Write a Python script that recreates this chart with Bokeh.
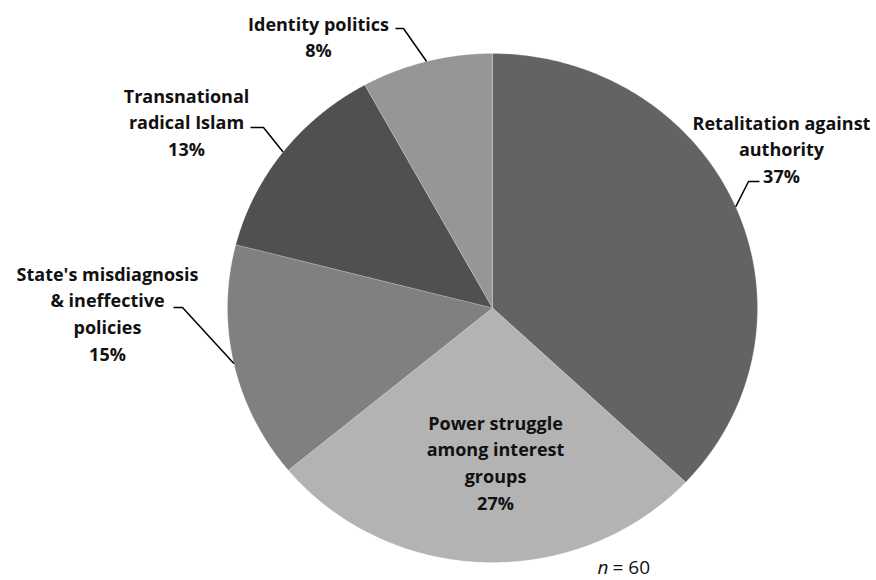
import numpy as np
from bokeh.plotting import figure
from bokeh.models import Range1d, ColumnDataSource
from bokeh.core.properties import value
from bokeh.embed import file_html
from bokeh.resources import INLINE

# ---- data ----
categories = ["Retalitation against authority",
              "Power struggle among interest groups",
              "State's misdiagnosis & ineffective policies",
              "Transnational radical Islam",
              "Identity politics"]
percentages = [37, 27, 15, 13, 8]
label_lines = [["Retalitation against", "authority"],
               ["Power struggle", "among interest", "groups"],
               ["State's misdiagnosis", "& ineffective", "policies"],
               ["Transnational", "radical Islam"],
               ["Identity politics"]]
colors = ["#636363", "#b3b3b3", "#808080", "#505050", "#969696"]
sample_note = "= 60"

# ---- layout (pixel-like coordinates, y downward) ----
W, H = 876, 580
CX, CY, RX, RY = 492, 307.5, 265, 254.5
label_pos = [(781, 122), (495, 422), (107, 273), (186, 95), (318, 23)]
line_gap = 26.7
leader_pts = [[(759, 181), (748, 181)],
              None,
              [(173, 307), (182, 307)],
              [(250, 127), (263, 127)],
              [(395, 28), (403, 28)]]

p = figure(width=W, height=H, output_backend="svg", toolbar_location=None,
           x_range=Range1d(0, W), y_range=Range1d(H, 0), min_border=0,
           background_fill_color="white", border_fill_color="white")
p.axis.visible = False
p.grid.visible = False
p.outline_line_color = None

vals = np.array(percentages, dtype=float)
fr = vals / vals.sum()
ends = 90 - 360 * np.cumsum(fr)
starts = np.concatenate([[90], ends[:-1]])

xs, ys = [], []
mids = []
for s, e in zip(starts, ends):
    th = np.radians(np.linspace(s, e, 200))
    xs.append(np.concatenate([[CX], CX + RX * np.cos(th)]).tolist())
    ys.append(np.concatenate([[CY], CY - RY * np.sin(th)]).tolist())
    m = np.radians((s + e) / 2)
    mids.append((CX + RX * np.cos(m), CY - RY * np.sin(m)))

p.patches(xs, ys, fill_color=colors, line_color="white", line_width=0.5, line_alpha=0.4)

# leader lines
lx, ly = [], []
for pts, mid in zip(leader_pts, mids):
    if pts is None:
        continue
    lx.append([pts[0][0], pts[1][0], mid[0]])
    ly.append([pts[0][1], pts[1][1], mid[1]])
p.multi_line(lx, ly, line_color="black", line_width=1.5)

# labels
tx, ty, tt = [], [], []
for lines, pct, (x0, y0) in zip(label_lines, percentages, label_pos):
    allrows = lines + [f"{pct}%"]
    for i, t in enumerate(allrows):
        tx.append(x0)
        ty.append(y0 + i * line_gap)
        tt.append(t)
src = ColumnDataSource(dict(x=tx, y=ty, text=tt))
p.text("x", "y", "text", source=src, text_font=value("Open Sans"), text_font_style="bold",
       text_font_size="18px", text_align="center", text_baseline="middle", text_color="#111111")

# n = 60 note
p.text([597], [566], ["n"], text_font=value("Open Sans"), text_font_style="italic",
       text_font_size="19px", text_align="left", text_baseline="middle", text_color="#111111")
p.text([612], [566], [sample_note], text_font=value("Open Sans"),
       text_font_size="19px", text_align="left", text_baseline="middle", text_color="#111111")

open("out.html", "w").write(file_html(p, INLINE))
